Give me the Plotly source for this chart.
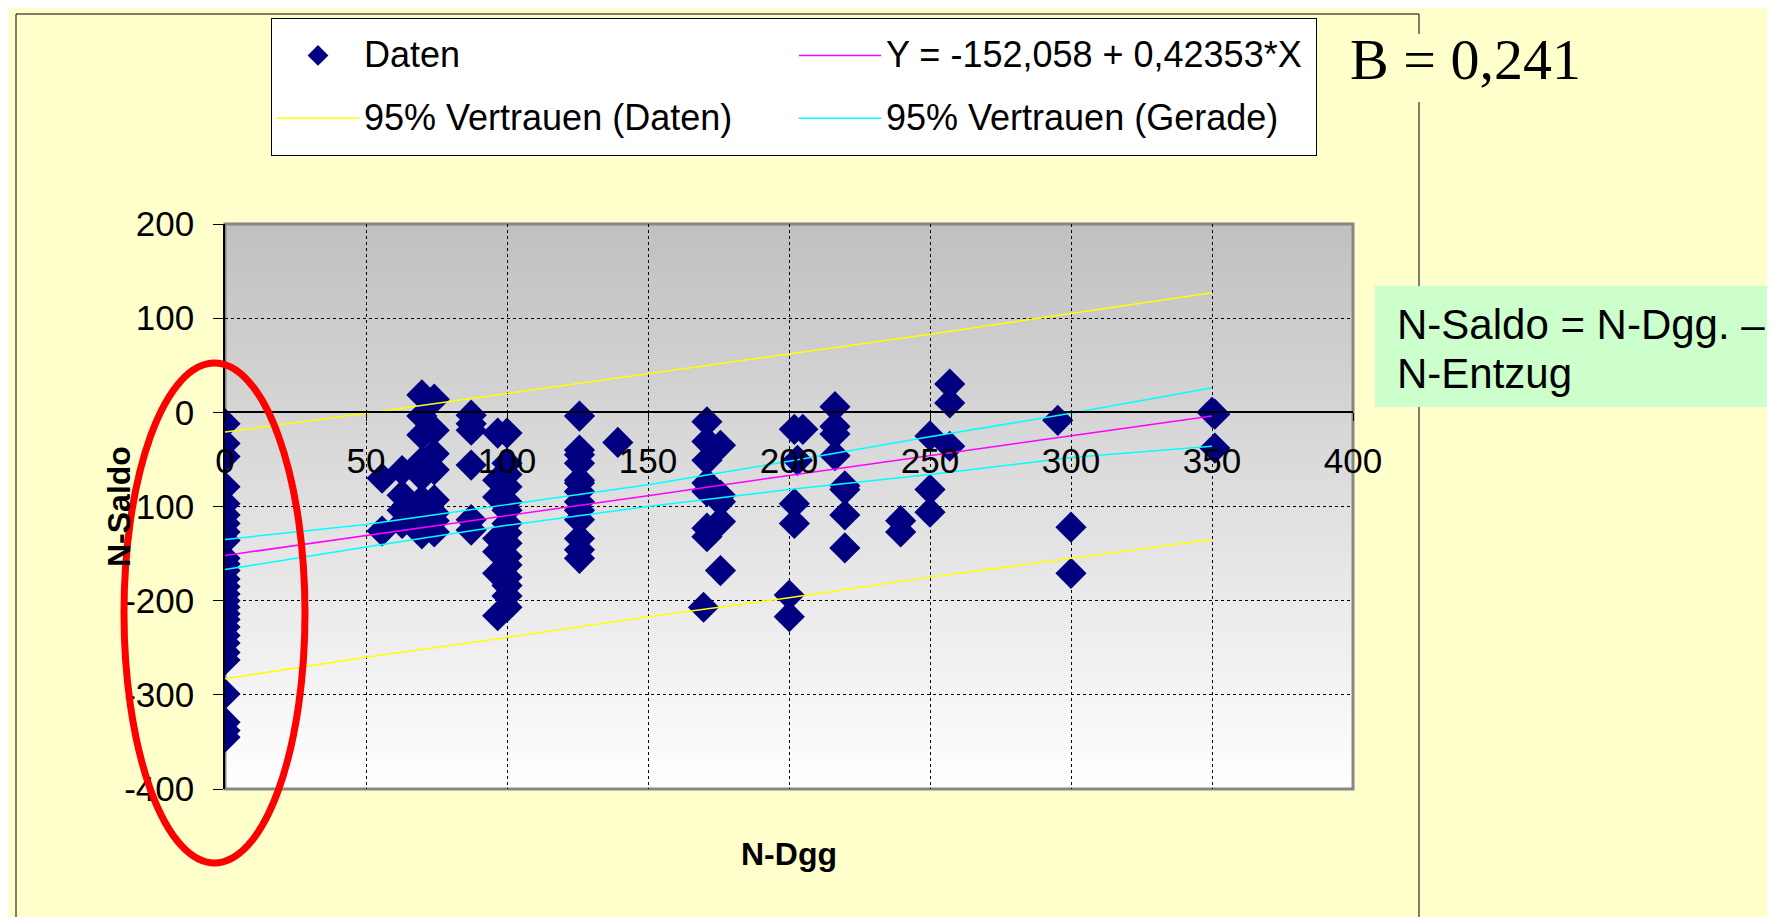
import plotly.graph_objects as go

# ---------------- data ----------------
daten_x = [0]*28 + [
    55.7, 55.7, 62.8, 62.8, 62.8, 62.8, 64.8,
    69.8, 74.2, 69.8, 69.8, 74.2, 74.2, 69.8, 74.2, 69.8, 74.2, 69.8, 69.8, 74.2, 69.8, 74.2, 69.8, 74.2,
    87.3, 87.3, 87.3, 87.3, 87.3, 87.3,
    96.7, 100, 100, 96.7, 100, 96.7, 100, 100, 96.7, 100, 100, 100, 96.7, 100, 100, 100, 96.7,
    100, 100, 100, 96.7, 100,
    125.7, 125.7, 125.7, 125.7, 125.7, 125.7, 125.7, 125.7, 125.7, 125.7, 125.7, 125.7, 125.7,
    139.3,
    170.9, 170.9, 170.9, 170.9, 170.9, 170.9, 170.9, 169.7,
    175.7, 175.7, 175.7, 175.7, 175.7,
    201.9, 204.9, 203.0, 201.9, 201.9, 200.1, 200.1,
    216.3, 216.3, 216.3, 216.3, 219.8, 219.8, 219.8, 219.8,
    239.6, 239.6,
    250, 250, 250,
    257, 257, 257,
    295.3,
    300, 300,
    350, 351, 351,
]
daten_y = [
    -12, -33, -47, -79, -97, -109, -118, -127, -136, -155, -161, -168, -177, -185,
    -193, -200, -207, -214, -220, -228, -237, -245, -255, -263, -299, -329, -338, -345,
    -70, -126, -62, -88, -104, -118, -98,
    18.5, 14, -4, -24, -19, -44, -52, -61, -68, -93, -93, -107, -107, -118, -127, -129, -115,
    -3, -12, -19, -56, -114, -125,
    -22, -22, -54, -72, -79, -90, -104, -118, -134, -139, -153, -162, -171, -175, -184, -207, -216,
    -66, -95, -128, -148, -195,
    -4, -40, -45, -54, -72, -75, -84, -95, -104, -114, -134, -146, -155,
    -32,
    -10, -31, -51, -75, -84, -123, -132, -207,
    -35, -88, -95, -116, -168,
    -18, -18, -51, -97, -118, -194, -217,
    6, -15, -23, -46, -78, -82, -109, -144,
    -115, -127,
    -25, -82, -106,
    30, 10, -36,
    -8.5,
    -122, -171,
    0, -2, -38,
]

band_x = [0, 50, 100, 150, 200, 250, 300, 350]
fit_y = [-152, -131, -110, -88.5, -67, -46, -25, -4]
pi_upper = [-21, -1, 20, 41, 62, 83, 105, 127]
pi_lower = [-283, -260, -239, -217, -197, -175, -155, -135]
ci_upper = [-135, -119, -98, -77, -52, -26, -1, 26]
ci_lower = [-167, -143, -120, -100, -82, -66, -48, -36]

x_range = [0, 400]
y_range = [-400, 200]
y_tickvals = [-400, -300, -200, -100, 0, 100, 200]
y_ticktext = ["-400", "-300", "-200", "-100", "0", "100", "200"]

# ---------------- layout helpers ----------------
W, H = 1775, 917
L, R, T, B = 217, 430, 216, 136
PW = W - L - R
PH = H - T - B


def px(x):
    return (x - L) / PW


def py(y):
    return (H - B - y) / PH


SANS = "Liberation Sans, Arial, sans-serif"
SERIF = "Liberation Serif, Times New Roman, serif"


def leg(txt):
    return "<span style='font-size:36px;baseline-shift:6px'>" + txt + "</span>"


fig = go.Figure()

fig.add_trace(go.Scatter(
    x=daten_x, y=daten_y, mode="markers", name=leg("Daten"),
    marker=dict(symbol="diamond", size=24, color="#000080", line=dict(width=0)),
))
fig.add_trace(go.Scatter(
    x=band_x, y=fit_y, mode="lines", name=leg("Y = -152,058 + 0,42353*X"),
    line=dict(color="#FF00FF", width=1.5),
))
fig.add_trace(go.Scatter(
    x=band_x, y=pi_upper, mode="lines", name=leg("95% Vertrauen (Daten)"),
    legendgroup="pi", line=dict(color="#FFFF00", width=1.5),
))
fig.add_trace(go.Scatter(
    x=band_x, y=ci_upper, mode="lines", name=leg("95% Vertrauen (Gerade)"),
    legendgroup="ci", line=dict(color="#00FFFF", width=1.5),
))
fig.add_trace(go.Scatter(
    x=band_x, y=pi_lower, mode="lines", showlegend=False,
    legendgroup="pi", line=dict(color="#FFFF00", width=1.5),
))
fig.add_trace(go.Scatter(
    x=band_x, y=ci_lower, mode="lines", showlegend=False,
    legendgroup="ci", line=dict(color="#00FFFF", width=1.5),
))

shapes = []
# gradient background of plot area (gray at top -> white at bottom)
N = 90
for i in range(N):
    f = (i + 0.5) / N
    g = int(round(255 - (255 - 192) * f))
    col = "rgb(%d,%d,%d)" % (g, g, g)
    shapes.append(dict(type="rect", xref="x domain", yref="y domain",
                       x0=0, x1=1, y0=i / N, y1=(i + 1) / N + 0.002,
                       fillcolor=col, line=dict(width=0), layer="below"))
# plot-area border
shapes.append(dict(type="rect", xref="x domain", yref="y domain", x0=0, x1=1, y0=0, y1=1,
                   line=dict(color="#878787", width=3), fillcolor="rgba(0,0,0,0)", layer="below"))

# outer slide frame
frame = [((8, 6), (1411, 6)), ((8, 6), (8, 917)), ((1411, 6), (1411, 26)), ((1411, 94), (1411, 917))]
for (a, b) in frame:
    shapes.append(dict(type="line", xref="paper", yref="paper",
                       x0=px(a[0]), y0=py(a[1]), x1=px(b[0]), y1=py(b[1]),
                       line=dict(color="black", width=1)))
# green note box
shapes.append(dict(type="rect", xref="paper", yref="paper",
                   x0=px(1367), x1=px(1790), y0=py(399), y1=py(278),
                   fillcolor="#CCFFCC", line=dict(width=0)))
# red ellipse
shapes.append(dict(type="circle", xref="paper", yref="paper",
                   x0=px(116), x1=px(297), y0=py(855), y1=py(355),
                   line=dict(color="#FF0000", width=7)))

annotations = [
    dict(text="B = 0,241", x=px(1340), y=py(52), xref="paper", yref="paper",
         xanchor="left", yanchor="middle", showarrow=False,
         font=dict(family=SERIF, size=58, color="black")),
    dict(text="N-Saldo = N-Dgg. –", x=px(1387), y=py(316), xref="paper", yref="paper",
         xanchor="left", yanchor="middle", showarrow=False,
         font=dict(family=SANS, size=42, color="black")),
    dict(text="N-Entzug", x=px(1387), y=py(365), xref="paper", yref="paper",
         xanchor="left", yanchor="middle", showarrow=False,
         font=dict(family=SANS, size=42, color="black")),
    dict(text="<b>N-Saldo</b>", x=px(111), y=py(499), xref="paper", yref="paper",
         xanchor="center", yanchor="middle", showarrow=False, textangle=-90,
         font=dict(family=SANS, size=32, color="black")),
    dict(text="<b>N-Dgg</b>", x=px(781), y=py(846), xref="paper", yref="paper",
         xanchor="center", yanchor="middle", showarrow=False,
         font=dict(family=SANS, size=32, color="black")),
]

axis_common = dict(
    showgrid=True, gridcolor="black", gridwidth=1, griddash="3px,3px",
    showline=True, linecolor="black", linewidth=1.5,
    ticks="outside", tickcolor="black", tickwidth=1,
    tickfont=dict(family=SANS, size=35, color="black"),
    zeroline=False,
)

fig.update_layout(
    width=W, height=H,
    margin=dict(l=L, r=R, t=T, b=B, autoexpand=False),
    paper_bgcolor="#FFFFCC", plot_bgcolor="#FFFFFF",
    xaxis=dict(range=x_range, dtick=50, tick0=0, ticklen=8, anchor="free",
               position=(0 - y_range[0]) / (y_range[1] - y_range[0]),
               ticklabelstandoff=10, **axis_common),
    yaxis=dict(range=y_range, tickmode="array", tickvals=y_tickvals, ticktext=y_ticktext,
               ticklen=10, ticklabelstandoff=12, **axis_common),
    showlegend=True,
    legend=dict(orientation="h", x=px(263), y=py(10), xanchor="left", yanchor="top",
                bgcolor="white", bordercolor="black", borderwidth=1,
                font=dict(family=SANS, size=46, color="black"),
                itemwidth=82, entrywidth=425, traceorder="normal", itemclick=False),
    shapes=shapes,
    annotations=annotations,
)

fig.write_html("out.html")
